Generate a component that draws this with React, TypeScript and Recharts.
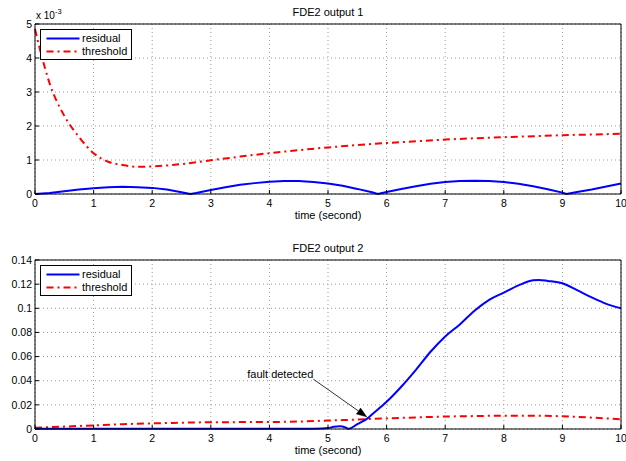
import React from 'react';
import { LineChart, Line, XAxis, YAxis, CartesianGrid, Legend, ReferenceLine, Label } from 'recharts';

// ---- shared axis ticks ----
const TIME_TICKS = [0, 1, 2, 3, 4, 5, 6, 7, 8, 9, 10];
const OUT1_TICKS = [0, 0.001, 0.002, 0.003, 0.004, 0.005];
const OUT2_TICKS = [0, 0.02, 0.04, 0.06, 0.08, 0.1, 0.12, 0.14];

const TITLE_1 = 'FDE2 output 1';
const TITLE_2 = 'FDE2 output 2';
const X_LABEL = 'time (second)';
const SERIES_NAMES = ['residual', 'threshold'];
const ANNOTATION = 'fault detected';
// annotation arrow: text anchor point -> arrow tip (time, value)
const ARROW_FROM = { t: 4.75, v: 0.0413 };
const ARROW_TO = { t: 5.66, v: 0.0101 };

// ---- output 1 ----
const T1_RES = [0, 0.25, 0.5, 0.75, 1, 1.25, 1.5, 1.75, 2, 2.25, 2.5, 2.65, 2.75, 3, 3.25, 3.5, 3.75, 4, 4.25, 4.5, 4.75, 5, 5.25, 5.5, 5.75, 5.85, 6, 6.25, 6.5, 6.75, 7, 7.25, 7.5, 7.75, 8, 8.25, 8.5, 8.75, 9, 9.07, 9.25, 9.5, 9.75, 10];
const RESIDUAL_1 = [0, 0.00003, 0.00008, 0.00013, 0.00017, 0.0002, 0.00021, 0.0002, 0.00018, 0.00013, 0.00005, 0, 0.00003, 0.00012, 0.0002, 0.00027, 0.00032, 0.00036, 0.00038, 0.00038, 0.00035, 0.00031, 0.00024, 0.00015, 0.00005, 0, 0.00006, 0.00015, 0.00023, 0.0003, 0.00035, 0.00038, 0.00039, 0.00038, 0.00035, 0.0003, 0.00023, 0.00014, 0.00004, 0, 0.00006, 0.00013, 0.00022, 0.00031];
const T1_THR = [0, 0.1, 0.25, 0.5, 0.75, 1, 1.25, 1.5, 1.75, 2, 2.5, 3, 3.5, 4, 4.5, 5, 5.5, 6, 6.5, 7, 7.5, 8, 8.5, 9, 9.5, 10];
const THRESHOLD_1 = [0.00485, 0.00415, 0.00325, 0.0023, 0.00168, 0.0012, 0.00095, 0.00085, 0.0008, 0.00081, 0.00088, 0.00099, 0.0011, 0.0012, 0.00129, 0.00137, 0.00144, 0.0015, 0.00155, 0.0016, 0.00164, 0.00167, 0.0017, 0.00173, 0.00175, 0.00177];

// ---- output 2 ----
const T2_RES = [0, 1, 2, 3, 4, 4.5, 4.75, 5, 5.1, 5.2, 5.3, 5.35, 5.5, 5.68, 5.75, 6, 6.25, 6.5, 6.75, 7, 7.25, 7.5, 7.75, 8, 8.25, 8.5, 8.6, 8.75, 9, 9.25, 9.5, 9.75, 10];
const RESIDUAL_2 = [0.0002, 0.0002, 0.0002, 0.0002, 0.0002, 0.0002, 0.0003, 0.0008, 0.0018, 0.0022, 0.0012, 0.0002, 0.004, 0.009, 0.012, 0.0225, 0.035, 0.049, 0.064, 0.0767, 0.0866, 0.098, 0.107, 0.113, 0.119, 0.1232, 0.1235, 0.1227, 0.1207, 0.115, 0.109, 0.1037, 0.1];
const T2_THR = [0, 0.5, 1, 1.5, 2, 2.5, 3, 3.5, 4, 4.5, 5, 5.5, 6, 6.5, 7, 7.5, 8, 8.5, 9, 9.5, 10];
const THRESHOLD_2 = [0.0011, 0.002, 0.003, 0.004, 0.0047, 0.0052, 0.0056, 0.0057, 0.0058, 0.0062, 0.007, 0.0078, 0.0088, 0.0096, 0.0103, 0.0107, 0.011, 0.011, 0.0105, 0.0094, 0.008];

const FONT = '"Liberation Sans", Arial, Helvetica, sans-serif';
const BLUE = '#0000ff';
const RED = '#ff0000';
const DASH_DOT = '7 4 2 4';
const GRID = '#9a9a9a';

const zip = (t: number[], v: number[]) => t.map((x, i) => ({ t: x, v: v[i] }));

const tickStyle = { fill: '#000', fontSize: 10.5, fontFamily: FONT };

function LegendBox() {
  return (
    <svg width={92} height={31} style={{ display: 'block' }}>
      <rect x={0.5} y={0.5} width={91} height={30} fill="#fff" stroke="#000" strokeWidth={1} />
      <line x1={6.5} x2={39.5} y1={9.5} y2={9.5} stroke={BLUE} strokeWidth={2} />
      <text x={42} y={13} fontSize={11} fontFamily={FONT} fill="#000">{SERIES_NAMES[0]}</text>
      <line x1={6.5} x2={39.5} y1={22.5} y2={22.5} stroke={RED} strokeWidth={2} strokeDasharray={DASH_DOT} />
      <text x={42} y={26} fontSize={11} fontFamily={FONT} fill="#000">{SERIES_NAMES[1]}</text>
    </svg>
  );
}

function ArrowShape(props: any) {
  const { x1, y1, x2, y2 } = props;
  const dx = x2 - x1;
  const dy = y2 - y1;
  const len = Math.sqrt(dx * dx + dy * dy) || 1;
  const ux = dx / len;
  const uy = dy / len;
  const hl = 10;
  const hw = 3.6;
  const bx = x2 - ux * hl;
  const by = y2 - uy * hl;
  const p1 = `${x2},${y2}`;
  const p2 = `${bx - uy * hw},${by + ux * hw}`;
  const p3 = `${bx + uy * hw},${by - ux * hw}`;
  return (
    <g>
      <line x1={x1} y1={y1} x2={bx} y2={by} stroke="#000" strokeWidth={0.8} />
      <polygon points={`${p1} ${p2} ${p3}`} fill="#000" stroke="#000" strokeWidth={0.5} />
      <text x={x1} y={y1 - 1} textAnchor="end" fontSize={11} fontFamily={FONT} fill="#000">{ANNOTATION}</text>
    </g>
  );
}

function ExponentLabel(props: any) {
  const vb = props.viewBox || { x: 0, y: 24, width: 35 };
  return (
    <text x={vb.x + vb.width + 1} y={vb.y - 5.5} fontSize={10} fontFamily={FONT} fill="#000">
      x 10<tspan dy={-4.5} fontSize={7.5}>-3</tspan>
    </text>
  );
}

type PanelProps = {
  height: number;
  top: number;
  xHeight: number;
  title: string;
  titleOffset: number;
  labelOffset: number;
  yTicks: number[];
  yMax: number;
  residual: { t: number; v: number }[];
  threshold: { t: number; v: number }[];
  yFormat?: (v: number) => string;
  exponent?: boolean;
  residualType: 'linear' | 'monotone';
  annotate?: boolean;
};

function Panel(p: PanelProps) {
  return (
    <LineChart width={626} height={p.height} margin={{ top: p.top - 1, right: 4, bottom: 0, left: 0 }}>
      <CartesianGrid stroke={GRID} strokeDasharray="1 3" strokeWidth={1} />
      <XAxis
        dataKey="t"
        type="number"
        domain={[0, 10]}
        ticks={TIME_TICKS}
        interval={0}
        height={p.xHeight}
        tickSize={-4}
        tickMargin={10}
        tick={tickStyle}
        stroke="#000"
        axisLine={{ stroke: '#000', strokeWidth: 1 }}
        tickLine={{ stroke: '#000' }}
      >
        <Label value={X_LABEL} position="insideBottom" offset={p.labelOffset} style={{ fontSize: 11, fontFamily: FONT, fill: '#000' }} />
      </XAxis>
      <XAxis
        xAxisId="top"
        orientation="top"
        dataKey="t"
        type="number"
        domain={[0, 10]}
        ticks={TIME_TICKS}
        interval={0}
        height={1}
        tickSize={-4}
        tick={false}
        axisLine={{ stroke: '#000', strokeWidth: 1 }}
        tickLine={{ stroke: '#000' }}
      >
        <Label value={p.title} position="top" offset={p.titleOffset} style={{ fontSize: 11, fontFamily: FONT, fill: '#000' }} />
      </XAxis>
      <YAxis
        type="number"
        domain={[0, p.yMax]}
        ticks={p.yTicks}
        interval={0}
        width={35}
        tickSize={-4}
        tickMargin={7}
        tick={tickStyle}
        tickFormatter={p.yFormat}
        axisLine={{ stroke: '#000', strokeWidth: 1 }}
        tickLine={{ stroke: '#000' }}
      >
        {p.exponent ? <Label content={<ExponentLabel />} /> : null}
      </YAxis>
      <YAxis
        yAxisId="right"
        orientation="right"
        type="number"
        domain={[0, p.yMax]}
        ticks={p.yTicks}
        interval={0}
        width={1}
        tickSize={-4}
        tick={false}
        axisLine={{ stroke: '#000', strokeWidth: 1 }}
        tickLine={{ stroke: '#000' }}
      />
      <Legend
        layout="vertical"
        align="center"
        verticalAlign="middle"
        content={<LegendBox />}
        wrapperStyle={{ left: 40, top: p.top + 5, width: 92, height: 31 }}
      />
      <Line
        data={p.threshold}
        dataKey="v"
        name={SERIES_NAMES[1]}
        type="monotone"
        stroke={RED}
        strokeWidth={2}
        strokeDasharray={DASH_DOT}
        dot={false}
        activeDot={false}
        isAnimationActive={false}
      />
      <Line
        data={p.residual}
        dataKey="v"
        name={SERIES_NAMES[0]}
        type={p.residualType}
        stroke={BLUE}
        strokeWidth={2}
        dot={false}
        activeDot={false}
        isAnimationActive={false}
      />
      {p.annotate ? (
        <ReferenceLine
          segment={[
            { x: ARROW_FROM.t, y: ARROW_FROM.v },
            { x: ARROW_TO.t, y: ARROW_TO.v },
          ]}
          shape={(sp: any) => <ArrowShape {...sp} />}
          ifOverflow="visible"
        />
      ) : null}
    </LineChart>
  );
}

export default function App() {
  return (
    <div style={{ position: 'absolute', left: 0, top: 0, width: 626, height: 461, background: '#fff' }}>
      <Panel
        height={232}
        top={24}
        xHeight={38}
        title={TITLE_1}
        titleOffset={7}
        labelOffset={13}
        yTicks={OUT1_TICKS}
        yMax={0.005}
        residual={zip(T1_RES, RESIDUAL_1)}
        threshold={zip(T1_THR, THRESHOLD_1)}
        yFormat={(v: number) => String(Math.round(v * 1000))}
        exponent
        residualType="linear"
      />
      <Panel
        height={229}
        top={28}
        xHeight={32}
        title={TITLE_2}
        titleOffset={7}
        labelOffset={7}
        yTicks={OUT2_TICKS}
        yMax={0.14}
        residual={zip(T2_RES, RESIDUAL_2)}
        threshold={zip(T2_THR, THRESHOLD_2)}
        residualType="monotone"
        annotate
      />
    </div>
  );
}
